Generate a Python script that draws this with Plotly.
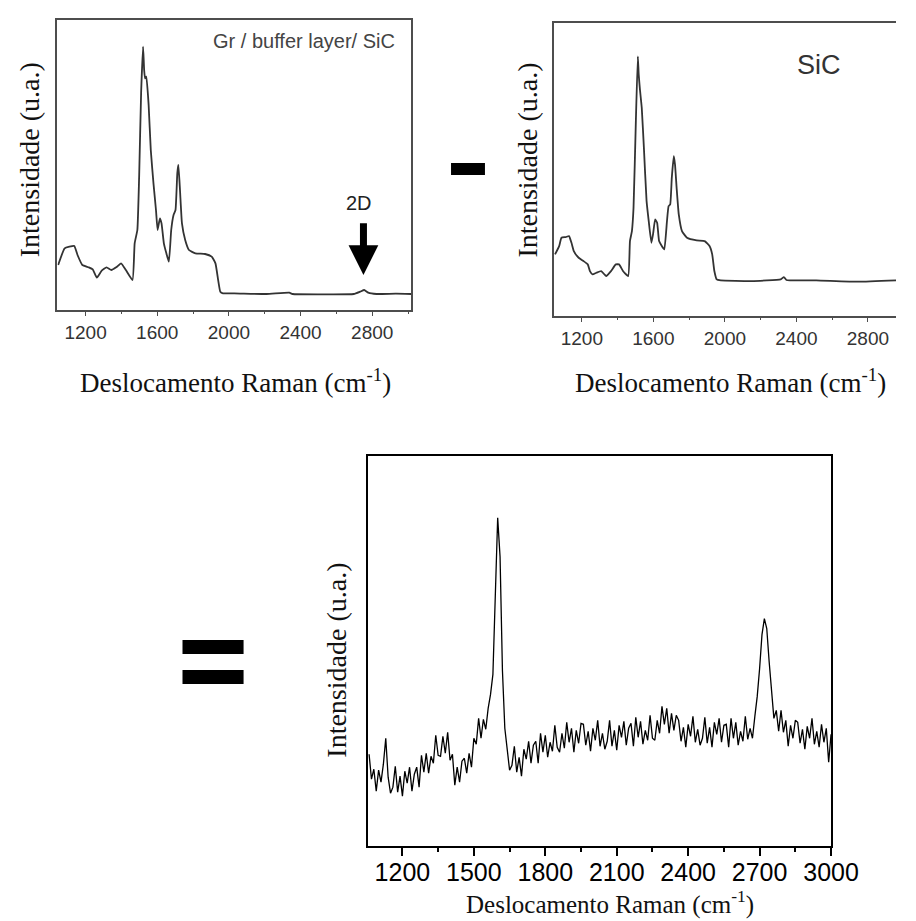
import plotly.graph_objects as go

# Gr / buffer layer / SiC spectrum (top left)
gr_wn = [1047, 1083, 1110, 1137, 1155, 1182, 1218, 1240, 1263, 1290, 1317, 1344, 1371, 1398, 1425,
         1462, 1474, 1489, 1499, 1510, 1521, 1527, 1532, 1539, 1552, 1564, 1579, 1593, 1602, 1615,
         1624, 1637, 1651, 1665, 1678, 1691, 1702, 1712, 1718, 1727, 1738, 1756, 1777, 1813, 1867,
         1904, 1925, 1940, 1952, 1967, 2030, 2210, 2337, 2355, 2571, 2697, 2733, 2755, 2778, 2824,
         2932, 3018]
gr_int = [135, 185, 190, 192, 165, 135, 128, 122, 97, 118, 128, 120, 128, 140, 120,
          90, 200, 240, 400, 650, 790, 720, 695, 700, 615, 480, 380, 300, 240, 275,
          260, 200, 170, 145, 240, 285, 300, 410, 435, 360, 260, 210, 180, 170, 168,
          160, 140, 90, 55, 50, 50, 48, 52, 48, 47, 48, 55, 60, 52, 48,
          49, 48]

# SiC spectrum (top right)
sic_wn = [1050, 1073, 1086, 1110, 1128, 1142, 1155, 1182, 1209, 1233, 1245, 1260, 1281, 1308, 1336,
          1363, 1390, 1408, 1430, 1459, 1469, 1480, 1489, 1502, 1513, 1518, 1524, 1535, 1547, 1562,
          1574, 1589, 1598, 1610, 1621, 1632, 1647, 1661, 1676, 1685, 1694, 1703, 1714, 1721, 1730,
          1742, 1760, 1788, 1842, 1887, 1914, 1929, 1941, 1954, 1977, 2149, 2312, 2330, 2344, 2511,
          2746, 2959]
sic_int = [185, 210, 235, 237, 240, 220, 195, 175, 165, 155, 135, 125, 130, 135, 120,
           135, 155, 155, 135, 120, 225, 255, 325, 585, 780, 725, 685, 625, 505, 345,
           285, 220, 245, 290, 280, 225, 210, 200, 285, 330, 335, 415, 480, 455, 385,
           305, 255, 235, 227, 225, 210, 185, 135, 110, 107, 105, 110, 117, 108, 107,
           103, 107]

# difference spectrum (bottom), 10 cm-1 steps from 1060 to 3000
diff_wn = list(range(1060, 3001, 10))
diff_int = [
    92, 67, 77, 55, 76, 64, 82, 108, 69, 53,
    59, 80, 54, 70, 50, 75, 63, 79, 55, 72,
    79, 59, 91, 74, 93, 73, 90, 83, 111, 91,
    90, 110, 93, 114, 86, 92, 61, 79, 64, 85,
    88, 73, 93, 79, 108, 102, 128, 108, 127, 117,
    138, 152, 172, 245, 329, 290, 176, 118, 98, 76,
    81, 100, 74, 89, 70, 97, 87, 105, 83, 101,
    105, 83, 113, 94, 111, 89, 104, 95, 121, 99,
    94, 113, 98, 124, 104, 118, 94, 116, 103, 123,
    122, 101, 115, 95, 118, 106, 126, 100, 113, 97,
    105, 126, 100, 116, 96, 121, 109, 125, 101, 118,
    123, 100, 129, 109, 125, 102, 116, 106, 131, 108,
    106, 126, 113, 140, 122, 138, 113, 133, 116, 131,
    126, 105, 119, 99, 122, 110, 130, 104, 117, 101,
    108, 129, 103, 119, 99, 124, 112, 128, 104, 121,
    122, 99, 128, 108, 124, 101, 115, 105, 130, 107,
    118, 108, 130, 150, 178, 212, 228, 218, 185, 152,
    128, 136, 115, 136, 114, 126, 100, 121, 108, 126,
    124, 103, 117, 97, 120, 108, 128, 102, 115, 99,
    122, 104, 118, 84, 112,
]

W, H = 916, 921
SERIF = "Liberation Serif"
SANS = "Liberation Sans"
XTITLE = "Deslocamento Raman (cm<sup>-1</sup>)"
YTITLE = "Intensidade (u.a.)"


def px(x):
    return min(1.0, max(0.0, x / W))


def py(y):
    return min(1.0, max(0.0, 1 - y / H))


fig = go.Figure()
fig.add_trace(go.Scatter(x=gr_wn, y=gr_int, mode="lines", xaxis="x", yaxis="y",
                         line=dict(color="#333333", width=1.8, shape="spline", smoothing=0.4)))
fig.add_trace(go.Scatter(x=sic_wn, y=sic_int, mode="lines", xaxis="x2", yaxis="y2",
                         line=dict(color="#333333", width=1.8, shape="spline", smoothing=0.4)))
fig.add_trace(go.Scatter(x=diff_wn, y=diff_int, mode="lines", xaxis="x3", yaxis="y3",
                         line=dict(color="black", width=1.3)))

top_x = dict(showline=True, linecolor="#4d4d4d", linewidth=1.5, mirror=True,
             ticks="outside", ticklen=4, tickwidth=1.2, tickcolor="#4d4d4d",
             tick0=1200, dtick=400, showgrid=False, zeroline=False,
             tickfont=dict(family=SANS, size=19, color="#333333"),
             minor=dict(ticks="outside", ticklen=2, dtick=200, tickcolor="#4d4d4d"))
top_y = dict(showline=True, linecolor="#4d4d4d", linewidth=1.5,
             showticklabels=False, ticks="", showgrid=False, zeroline=False)

fig.update_layout(
    width=W, height=H, autosize=False,
    margin=dict(l=0, r=0, t=0, b=0),
    paper_bgcolor="white", plot_bgcolor="white",
    showlegend=False,
    xaxis=dict(top_x, domain=[px(51), px(416)], range=[1043, 3018], anchor="y"),
    yaxis=dict(top_y, domain=[py(302), py(12)], range=[0, 870], mirror=True, anchor="x"),
    xaxis2=dict(top_x, domain=[px(563), 1.0], range=[1043, 2957], anchor="y2"),
    yaxis2=dict(top_y, domain=[py(308), py(15)], range=[0, 880], mirror=False, anchor="x2"),
    xaxis3=dict(showline=True, linecolor="black", linewidth=2, mirror=True,
                ticks="outside", ticklen=8, tickwidth=2, tickcolor="black",
                tick0=1200, dtick=300, range=[1054, 3000], showgrid=False, zeroline=False,
                domain=[px(371), px(849)], anchor="y3", ticklabelstandoff=-5,
                tickfont=dict(family=SANS, size=25, color="black"),
                minor=dict(ticks="outside", ticklen=4, tickwidth=2, dtick=150, tickcolor="black")),
    yaxis3=dict(showline=True, linecolor="black", linewidth=2, mirror=True,
                showticklabels=False, ticks="", showgrid=False, zeroline=False,
                range=[0, 391], domain=[py(838), py(448)], anchor="x3"),
)

annotations = [
    dict(x=px(235), y=py(373), text=XTITLE, font=dict(family=SERIF, size=27, color="#111111")),
    dict(x=px(745), y=py(373), text=XTITLE, font=dict(family=SERIF, size=27, color="#111111")),
    dict(x=px(621), y=py(913), yanchor="bottom", text=XTITLE, font=dict(family=SERIF, size=25, color="#111111")),
    dict(x=px(23), y=py(152), text=YTITLE, textangle=-90, font=dict(family=SERIF, size=28, color="#111111")),
    dict(x=px(536), y=py(152), text=YTITLE, textangle=-90, font=dict(family=SERIF, size=28, color="#111111")),
    dict(x=px(338), y=py(652), text=YTITLE, textangle=-90, font=dict(family=SERIF, size=28, color="#111111")),
    dict(x=px(305), y=py(33), text="Gr / buffer layer/ SiC", font=dict(family=SANS, size=20, color="#444444")),
    dict(x=px(837), y=py(57), text="SiC", font=dict(family=SANS, size=27, color="#333333")),
    dict(x=px(362), y=py(195), text="2D", font=dict(family=SANS, size=20, color="#222222")),
]
for a in annotations:
    a.setdefault("yanchor", "middle")
    a.update(xref="paper", yref="paper", showarrow=False, xanchor="center")
    fig.add_annotation(**a)

# 2D arrow
fig.add_annotation(x=2751, y=105, ax=2751, ay=265, xref="x", yref="y", axref="x", ayref="y",
                   text="", showarrow=True, arrowhead=2, arrowsize=0.85, arrowwidth=7,
                   arrowcolor="black")

# minus and equals signs
fig.add_shape(type="rect", xref="paper", yref="paper", x0=px(457), x1=px(492), y0=py(167), y1=py(155),
              fillcolor="black", line_width=0)
fig.add_shape(type="rect", xref="paper", yref="paper", x0=px(180), x1=px(243), y0=py(646), y1=py(632),
              fillcolor="black", line_width=0)
fig.add_shape(type="rect", xref="paper", yref="paper", x0=px(180), x1=px(243), y0=py(676), y1=py(662),
              fillcolor="black", line_width=0)

fig.write_html("out.html")
